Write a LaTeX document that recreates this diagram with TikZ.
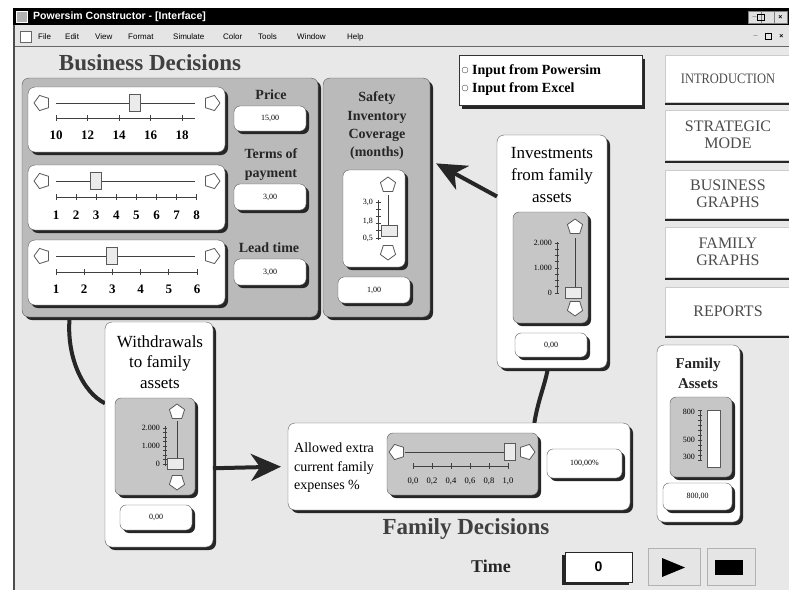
\documentclass[tikz,border=0pt]{standalone}
\usepackage{fontspec}
\usepackage{graphicx}
\setmainfont{Liberation Serif}
\setsansfont{Liberation Sans}
\usetikzlibrary{shapes.geometric, arrows.meta, positioning, shadows, backgrounds}
\definecolor{winbg}{RGB}{232,232,232}
\definecolor{panelgray}{RGB}{186,186,186}
\definecolor{innergray}{RGB}{198,198,198}
\definecolor{edgegray}{RGB}{90,90,90}

\begin{document}
\begin{tikzpicture}[x=1pt, y=-1pt,
  shadowed/.style={drop shadow={shadow xshift=3pt, shadow yshift=-3pt, fill=black!85, opacity=1}},
  box/.style={anchor=north west, inner sep=0pt, outer sep=0pt},
  panel/.style={box, shadowed, draw=edgegray, fill=panelgray, rounded corners=7pt},
  card/.style={box, shadowed, draw=edgegray, fill=white, rounded corners=7pt},
  well/.style={box, shadowed, draw=edgegray, fill=innergray, rounded corners=6pt},
  valbox/.style={box, shadowed, draw=edgegray, fill=white, rounded corners=6pt,
                 font=\fontsize{8}{9}\selectfont},
  navbtn/.style={box, fill=white, draw=black!20, minimum width=126, align=center,
                 text=black!70, font=\fontsize{16}{16.7}\selectfont,
                 drop shadow={shadow xshift=0pt, shadow yshift=-3pt, fill=black!85, opacity=1}},
  winbtn/.style={box, fill=black!12, draw=black!50, minimum width=13, minimum height=12,
                 font=\sffamily\bfseries\fontsize{7}{7}\selectfont},
  menuitem/.style={anchor=west, inner sep=0pt, font=\sffamily\fontsize{8}{9}\selectfont},
  lbl/.style={font=\fontsize{14}{19}\selectfont\bfseries, align=center, inner sep=0pt, text=black!85},
  boxtitle/.style={font=\fontsize{17}{22}\selectfont, align=center, inner sep=0pt},
  famtext/.style={font=\fontsize{14}{18.5}\selectfont, align=left, inner sep=0pt, anchor=west},
  heading/.style={font=\fontsize{23}{26}\selectfont\bfseries, text=black!75, inner sep=0pt},
  ticknum/.style={font=\fontsize{13}{15}\selectfont\bfseries, inner sep=0pt},
  smallnum/.style={font=\fontsize{8}{9}\selectfont, inner sep=0pt, anchor=east},
  radiotxt/.style={font=\fontsize{14}{16}\selectfont\bfseries, inner sep=0pt, anchor=west},
  radio/.style={circle, draw=black!70, minimum size=6, inner sep=0pt},
  stepper/.style={regular polygon, regular polygon sides=5, minimum size=16, inner sep=0pt,
                  draw=edgegray, fill=white, line width=0.8pt},
  hthumb/.style={draw=edgegray, fill=black!8, inner sep=0pt, minimum width=11, minimum height=17},
  vthumb/.style={draw=edgegray, fill=black!8, inner sep=0pt, minimum width=16, minimum height=11},
  ctrlbtn/.style={box, fill=black!10, draw=black!30, minimum width=52, minimum height=37},
  track/.style={draw=black!75, line width=1pt},
  scaleline/.style={draw=black!75, line width=0.8pt},
  link/.style={line width=4pt, black!85},
  flow/.style={link, -{Stealth[length=30pt, width=27pt, inset=9pt]}},
]
\useasboundingbox (0,0) rectangle (789,590);

% window frame
\begin{scope}[on background layer]
  \fill[white] (0,0) rectangle (789,590);
  \fill[black] (13,8) rectangle (789,25);
  \fill[black!10] (13,25) rectangle (789,46);
  \fill[winbg] (13,47) rectangle (789,590);
  \draw[black!60, line width=1.2pt] (13,46.5) -- (789,46.5);
  \draw[black!70, line width=2pt] (14,25) -- (14,590);
\end{scope}

\node[box, draw=white, fill=black!30, minimum size=11] (appicon) at (16,11) {};
\node[anchor=west, inner sep=0pt, text=white, font=\sffamily\bfseries\fontsize{10.5}{12}\selectfont]
  (title) at (33,17) {Powersim Constructor - [Interface]};
\node[winbtn] (tbmin) at (748,11) {\_};
\node[winbtn] (tbmax) at (761,11) {};
\draw[black, line width=0.8pt] (757.5,14.5) rectangle (764.5,20.5);
\node[winbtn] (tbclose) at (774,11) {×};

\node[box, draw=black!60, fill=white, minimum size=11] (docicon) at (20,31) {};
\foreach \m/\x in {File/38, Edit/65, View/95, Format/128, Simulate/173,
                   Color/223, Tools/258, Window/297, Help/347}
  \node[menuitem] (menu\m) at (\x,37) {\m};
\node[winbtn, fill=none, draw=none] (mbmin) at (749,30) {\_};
\node[winbtn, fill=none, draw=none] (mbmax) at (762,30) {};
\draw[black, line width=0.8pt] (765.5,33.5) rectangle (771.5,39.5);
\node[winbtn, fill=none, draw=none] (mbclose) at (775,30) {×};

% business decisions
\node[heading] (bizhead) at (150,63) {Business Decisions};
\node[panel, minimum width=296, minimum height=239] (biz) at (22,78) {};

\node[card, minimum width=197, minimum height=65] (pricecard) at (28,87) {};
\draw[track] (56,103) -- (195,103);
\node[stepper, shape border rotate=90] (priceleft) at (42,103) {};
\node[stepper, shape border rotate=270] (priceright) at (212,103) {};
\node[hthumb] (pricethumb) at (135,103) {};
\draw[scaleline] (56,118) -- (195,118);
\foreach \v [count=\k from 0] in {10,12,14,16,18} {
  \draw[scaleline] (56+31.5*\k,115) -- ++(0,6);
  \node[ticknum] (pricetick\k) at (56+31.5*\k,135) {\v};
}
\node[lbl] (pricelbl) at (271,95) {Price};
\node[valbox, minimum width=72, minimum height=25] (priceval) at (234,106) {15,00};

\node[card, minimum width=197, minimum height=65] (termscard) at (28,165) {};
\draw[track] (56,181) -- (195,181);
\node[stepper, shape border rotate=90] (termsleft) at (42,181) {};
\node[stepper, shape border rotate=270] (termsright) at (212,181) {};
\node[hthumb] (termsthumb) at (96,181) {};
\draw[scaleline] (56,197) -- (197,197);
\foreach \v in {1,...,8} {
  \draw[scaleline] ({56+20.1*(\v-1)},194) -- ++(0,6);
  \node[ticknum] (termstick\v) at ({56+20.1*(\v-1)},215) {\v};
}
\node[lbl] (termslbl) at (271,165) {Terms of\\payment};
\node[valbox, minimum width=72, minimum height=26] (termsval) at (234,184) {3,00};

\node[card, minimum width=197, minimum height=65] (leadcard) at (28,240) {};
\draw[track] (56,256) -- (195,256);
\node[stepper, shape border rotate=90] (leadleft) at (42,256) {};
\node[stepper, shape border rotate=270] (leadright) at (212,256) {};
\node[hthumb] (leadthumb) at (112,256) {};
\draw[scaleline] (56,272) -- (197,272);
\foreach \v in {1,...,6} {
  \draw[scaleline] ({56+28.2*(\v-1)},269) -- ++(0,6);
  \node[ticknum] (leadtick\v) at ({56+28.2*(\v-1)},289) {\v};
}
\node[lbl] (leadlbl) at (269,248) {Lead time};
\node[valbox, minimum width=72, minimum height=26] (leadval) at (234,259) {3,00};

% safety inventory
\node[panel, minimum width=107, minimum height=239] (saf) at (323,78) {};
\node[lbl, font=\fontsize{14}{18.3}\selectfont\bfseries] (saflbl) at (377,126)
  {Safety\\Inventory\\Coverage\\(months)};
\node[card, rounded corners=6pt, minimum width=62, minimum height=97] (safwell) at (343,170) {};
\node[stepper] (safup) at (388,185) {};
\node[stepper, shape border rotate=180] (safdown) at (388,252) {};
\draw[track] (388,195) -- (388,231);
\node[vthumb] (safthumb) at (389,231) {};
\draw[scaleline] (378,200) -- (378,240);
\foreach \t in {0,...,5} \draw[scaleline] (376,202+7.2*\t) -- ++(5,0);
\node[smallnum] (saftop) at (373,202) {3,0};
\node[smallnum] (safmid) at (373,221) {1,8};
\node[smallnum] (safbot) at (373,238) {0,5};
\node[valbox, minimum width=72, minimum height=26] (safval) at (338,277) {1,00};

% investments from family assets
\node[card, minimum width=110, minimum height=233] (inv) at (497,135) {};
\node[boxtitle] (invlbl) at (552,175) {Investments\\from family\\assets};
\node[well, minimum width=75, minimum height=111] (invwell) at (513,212) {};
\node[stepper] (invup) at (575,227) {};
\node[stepper, shape border rotate=180] (invdown) at (575,308) {};
\draw[track] (575,238) -- (575,292);
\node[vthumb] (invthumb) at (573,293) {};
\draw[scaleline] (557,242) -- (557,294);
\foreach \t in {0,...,8} \draw[scaleline] (555,243+6.25*\t) -- ++(4,0);
\node[smallnum] (invtop) at (552,243) {2.000};
\node[smallnum] (invmid) at (552,268) {1.000};
\node[smallnum] (invbot) at (552,293) {0};
\node[valbox, minimum width=72, minimum height=24] (invval) at (515,333) {0,00};

% withdrawals to family assets
\node[card, minimum width=108, minimum height=225] (wd) at (105,322) {};
\node[boxtitle, font=\fontsize{17}{20.5}\selectfont] (wdlbl) at (160,362) {Withdrawals\\to family\\assets};
\node[well, minimum width=80, minimum height=97] (wdwell) at (115,398) {};
\node[stepper] (wdup) at (177,412) {};
\node[stepper, shape border rotate=180] (wddown) at (177,482) {};
\draw[track] (177,421) -- (177,462);
\node[vthumb] (wdthumb) at (175,464) {};
\draw[scaleline] (165,426) -- (165,466);
\foreach \t in {0,...,8} \draw[scaleline] (163,428+4.5*\t) -- ++(4,0);
\node[smallnum] (wdtop) at (160,428) {2.000};
\node[smallnum] (wdmid) at (160,446) {1.000};
\node[smallnum] (wdbot) at (160,464) {0};
\node[valbox, minimum width=72, minimum height=25] (wdval) at (120,505) {0,00};

% family decisions
\node[card, minimum width=342, minimum height=87] (fam) at (288,423) {};
\node[famtext] (famlbl) at (294,468) {Allowed extra\\current family\\expenses \%};
\node[well, minimum width=151, minimum height=62] (famwell) at (387,433) {};
\draw[track] (405,452) -- (508,452);
\node[stepper, shape border rotate=90] (famleft) at (397,452) {};
\node[stepper, shape border rotate=270] (famright) at (527,452) {};
\node[hthumb] (famthumb) at (510,452) {};
\draw[scaleline] (413,466) -- (508,466);
\foreach \v/\w [count=\k from 0] in {0/0,0/2,0/4,0/6,0/8,1/0} {
  \draw[scaleline] (413+19*\k,463) -- ++(0,6);
  \node[smallnum, anchor=center, font=\fontsize{8.5}{9}\selectfont] (famtick\k) at (413+19*\k,481) {\v,\w};
}
\node[valbox, minimum width=75, minimum height=29] (famval) at (547,449) {100,00\%};
\node[heading] (famhead) at (466,529) {Family Decisions};

% family assets
\node[card, minimum width=83, minimum height=177] (fa) at (657,345) {};
\node[lbl, font=\fontsize{15}{20}\selectfont\bfseries] (falbl) at (698,373) {Family\\Assets};
\node[well, minimum width=62, minimum height=80] (fawell) at (670,397) {};
\node[box, draw=edgegray, fill=white, minimum width=13, minimum height=57] (fabar) at (707,410) {};
\draw[scaleline] (700,410) -- (700,460);
\foreach \t in {0,...,10} \draw[scaleline] (698,410+5*\t) -- ++(4,0);
\node[smallnum] (fatop) at (695,412) {800};
\node[smallnum] (famid) at (695,440) {500};
\node[smallnum] (fabot) at (695,457) {300};
\node[valbox, minimum width=69, minimum height=27] (faval) at (663,483) {800,00};

% data source
\node[box, fill=white, draw=black!80, minimum width=183, minimum height=50,
      drop shadow={shadow xshift=3pt, shadow yshift=-4pt, fill=black!85, opacity=1}] (src) at (459,55) {};
\node[radio] (radpw) at (465,70) {};
\node[radiotxt] (srcpw) at (472,71) {Input from Powersim};
\node[radio] (radxl) at (465,88) {};
\node[radiotxt] (srcxl) at (472,89) {Input from Excel};

% navigation
\node[navbtn, minimum height=47] (intro) at (665,55) {\scalebox{0.78}[0.9]{INTRODUCTION}};
\node[navbtn, minimum height=50] (strat) at (665,110) {STRATEGIC\\MODE};
\node[navbtn, minimum height=48] (bgraph) at (665,170) {BUSINESS\\GRAPHS};
\node[navbtn, minimum height=50] (fgraph) at (665,227) {FAMILY\\GRAPHS};
\node[navbtn, minimum height=48] (reports) at (665,287) {REPORTS};

% simulation control
\node[lbl, font=\fontsize{18}{20}\selectfont\bfseries] (timelbl) at (491,566) {Time};
\node[box, fill=white, draw=black!85, minimum width=67, minimum height=30,
      font=\sffamily\bfseries\fontsize{14}{16}\selectfont,
      drop shadow={shadow xshift=-3pt, shadow yshift=-3pt, fill=black!85, opacity=1}] (timeval) at (565,552) {0};
\node[ctrlbtn] (playbtn) at (648,548) {};
\fill[black] (662,558) -- (685,567.5) -- (662,577) -- cycle;
\node[ctrlbtn, minimum width=48] (stopbtn) at (707,548) {};
\fill[black] (715,560) rectangle (743,575);

% links
\begin{scope}[on background layer]
  \draw[link] (biz.230) .. controls (66,355) and (82,392) .. (wd.150);
  \draw[link] (fam.30) .. controls (538,400) and (545,385) .. (inv.268);
\end{scope}
\draw[flow, shorten >=7pt] (wd.-32) -- (fam.west);
\draw[flow, shorten >=7pt] (inv.135) -- (saf.35);

\end{tikzpicture}
\end{document}
